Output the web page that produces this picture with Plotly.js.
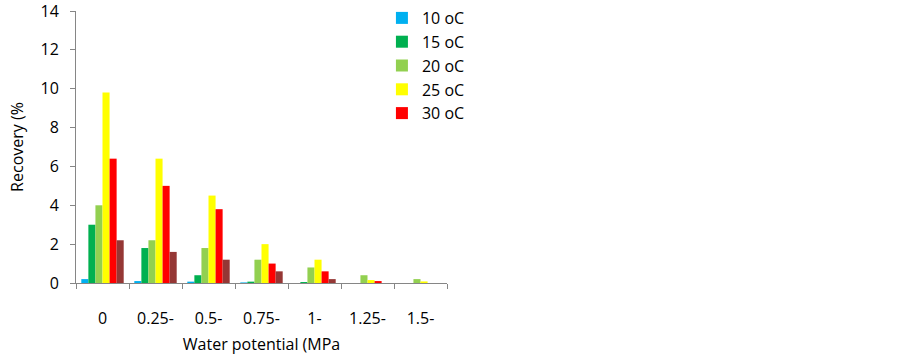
<!DOCTYPE html>
<html>
<head>
<meta charset="utf-8">
<script src="https://cdn.plot.ly/plotly-3.0.1.min.js"></script>
<style>html,body{margin:0;padding:0;background:#fff;}#chart{width:903px;height:355px;}</style>
</head>
<body>
<div id="chart"></div>
<script>
const categories = ["0", "0.25-", "0.5-", "0.75-", "1-", "1.25-", "1.5-"];
const seriesNames = ["10 oC", "15 oC", "20 oC", "25 oC", "30 oC", "35 oC"];
const v10 = [0.2, 0.1, 0.07, 0.03, 0, 0, 0];
const v15 = [3.0, 1.8, 0.4, 0.07, 0.05, 0, 0];
const v20 = [4.0, 2.2, 1.8, 1.2, 0.8, 0.4, 0.2];
const v25 = [9.8, 6.4, 4.5, 2.0, 1.2, 0.15, 0.08];
const v30 = [6.4, 5.0, 3.8, 1.0, 0.6, 0.1, 0];
const v35 = [2.2, 1.6, 1.2, 0.6, 0.2, 0, 0];
const colors = ["#00b0f0", "#00b050", "#92d050", "#ffff00", "#ff0000", "#953735"];
const showInLegend = [true, true, true, true, true, false];
const values = [v10, v15, v20, v25, v30, v35];

const traces = values.map((v, i) => ({
  type: "bar",
  x: categories,
  y: v,
  name: seriesNames[i],
  marker: {color: colors[i]},
  showlegend: showInLegend[i]
}));

const font = "'Open Sans', sans-serif";
const layout = {
  width: 903, height: 355,
  margin: {l: 76, r: 456, t: 1, b: 72},
  paper_bgcolor: "#fff", plot_bgcolor: "#fff",
  barmode: "group",
  bargap: 0.2,
  bargroupgap: 0,
  font: {family: font, size: 16, color: "#000"},
  showlegend: true,
  legend: {x: 0.8246, y: 1.0, xanchor: "left", yanchor: "top",
           font: {family: font, size: 16, color: "#000"}, tracegroupgap: 0,
           bgcolor: "rgba(0,0,0,0)"},
  xaxis: {
    type: "category",
    tickson: "boundaries",
    ticks: "outside", ticklen: 5, tickcolor: "#868686",
    showline: true, linecolor: "#868686", linewidth: 1,
    showgrid: false, zeroline: false,
    ticklabelstandoff: 21,
    tickfont: {family: font, size: 16, color: "#000"},
    title: {text: "Water potential (MPa", font: {family: font, size: 16, color: "#000"}, standoff: 21},
    automargin: false
  },
  yaxis: {
    domain: [0, 0.9645],
    range: [0, 14], dtick: 2,
    ticks: "outside", ticklen: 5, tickcolor: "#868686",
    showline: true, linecolor: "#868686", linewidth: 1,
    showgrid: false, zeroline: false,
    ticklabelstandoff: 8,
    ticklabeloverflow: "allow",
    tickfont: {family: font, size: 16, color: "#000"},
    title: {text: "Recovery (%", font: {family: font, size: 16, color: "#000"}, standoff: 12},
    automargin: false
  }
};
Plotly.newPlot("chart", traces, layout, {displayModeBar: false, staticPlot: true});
</script>
</body>
</html>
